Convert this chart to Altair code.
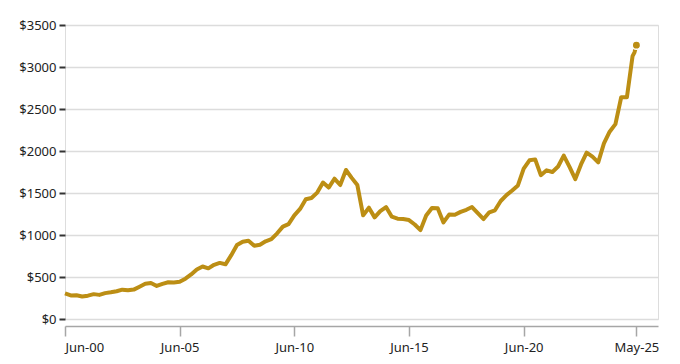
import altair as alt
import pandas as pd

quarter_dates = [d.strftime("%Y-%m-%d") for d in pd.date_range("2000-06-01", "2025-03-01", freq="3MS")]
extra_dates = ["2025-04-01", "2025-05-01"]
dates = quarter_dates + extra_dates

prices = [
    305, 280, 282, 268, 278, 296, 287, 308, 318, 330,
    349, 341, 350, 385, 420, 428, 393, 418, 437, 435,
    443, 480, 530, 590, 625, 603, 645, 668, 651, 760,
    880, 920, 932, 873, 885, 925, 950, 1020, 1100, 1130,
    1234, 1310, 1425, 1440, 1505, 1625, 1565, 1670, 1595, 1774,
    1680, 1595, 1234, 1325, 1210, 1285, 1333, 1218, 1194, 1190,
    1178, 1125, 1058, 1232, 1322, 1318, 1150, 1243, 1240, 1275,
    1300, 1333, 1260, 1190, 1270, 1294, 1405, 1475, 1530, 1590,
    1790, 1889, 1900, 1712, 1770, 1750, 1815, 1945, 1810, 1665,
    1840, 1980, 1933, 1865, 2090, 2230, 2320, 2640, 2640, 3130,
    3175, 3260,
]

x_ticks = ["2000-06-01", "2005-06-01", "2010-06-01", "2015-06-01", "2020-06-01", "2025-05-01"]
y_ticks = [0, 500, 1000, 1500, 2000, 2500, 3000, 3500]

df = pd.DataFrame({"date": pd.to_datetime(dates), "price": prices})
last = df.tail(1)

GOLD = "#BC8E14"
FONT = "Noto Sans"

x_enc = alt.X(
    "date:T",
    scale=alt.Scale(domain=[alt.DateTime(year=2000, month=6, date=1), alt.DateTime(year=2026, month=4, date=10)]),
    axis=alt.Axis(
        title=None,
        values=[alt.DateTime(year=int(s[:4]), month=int(s[5:7]), date=1) for s in x_ticks],
        labelExpr="timeFormat(datum.value, '%b-%y')",
        offset=7,
        grid=False,
        domainColor="#a6a6a6",
        domainWidth=1.5,
        tickColor="#a6a6a6",
        tickWidth=1.5,
        tickSize=10,
        labelPadding=5,
        labelFontSize=13,
        labelColor="#222222",
        labelFont=FONT,
    ),
)
y_enc = alt.Y(
    "price:Q",
    scale=alt.Scale(domain=[0, 3500]),
    axis=alt.Axis(
        title=None,
        values=y_ticks,
        labelExpr="'$' + datum.value",
        domain=False,
        tickColor="#333333",
        tickWidth=2,
        tickSize=6,
        labelPadding=3,
        gridColor="#dcdcdc",
        gridWidth=1.5,
        labelFontSize=13,
        labelColor="#222222",
        labelFont=FONT,
    ),
)

line = alt.Chart(df).mark_line(color=GOLD, strokeWidth=4, strokeJoin="round").encode(x=x_enc, y=y_enc)
dot = alt.Chart(last).mark_circle(color=GOLD, size=70, opacity=1, stroke="white", strokeWidth=1.5).encode(x="date:T", y="price:Q")

chart = (
    alt.layer(line, dot)
    .properties(width=593, height=294, padding={"left": 10, "top": 11, "right": 5, "bottom": 5})
    .configure_view(stroke=None)
    .configure(background="white")
)

chart.save("out.html", embed_options={"renderer": "svg", "actions": False})
